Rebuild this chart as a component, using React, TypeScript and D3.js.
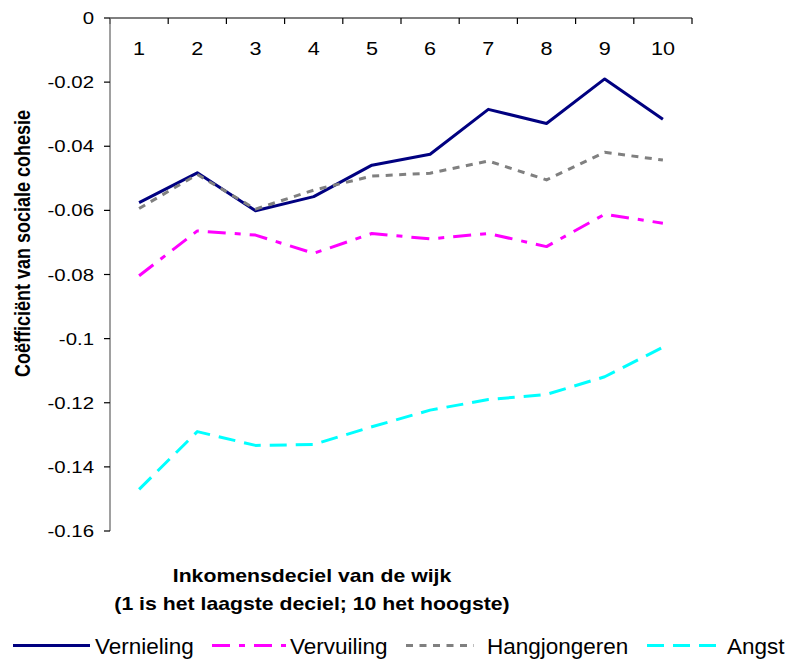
import React from "react";
import * as d3 from "d3";

const categories = ["1", "2", "3", "4", "5", "6", "7", "8", "9", "10"];
const vernieling = [-0.0576, -0.0483, -0.0601, -0.0557, -0.0459, -0.0425, -0.0285, -0.0329, -0.019, -0.0316];
const vervuiling = [-0.0804, -0.0664, -0.0677, -0.0734, -0.0672, -0.0689, -0.0672, -0.0713, -0.0612, -0.064];
const hangjongeren = [-0.0594, -0.0488, -0.0596, -0.0537, -0.0493, -0.0484, -0.0446, -0.0505, -0.0419, -0.0443];
const angst = [-0.147, -0.129, -0.1333, -0.133, -0.1275, -0.1223, -0.119, -0.1174, -0.1119, -0.1027];
const yTicks = [0, -0.02, -0.04, -0.06, -0.08, -0.1, -0.12, -0.14, -0.16];
const seriesNames = ["Vernieling", "Vervuiling", "Hangjongeren", "Angst"];

const series = [
  { name: seriesNames[0], values: vernieling, color: "#000080", dash: "none" },
  { name: seriesNames[1], values: vervuiling, color: "#FF00FF", dash: "18 9 6 9" },
  { name: seriesNames[2], values: hangjongeren, color: "#808080", dash: "7 6.5" },
  { name: seriesNames[3], values: angst, color: "#00FFFF", dash: "17 9" },
];

const FONT = "'Liberation Sans', Arial, sans-serif";
const SX = 1.2;

function T(props: { x: number; y: number; anchor?: string; size: number; bold?: boolean; sx?: number; children: any }) {
  const sx = props.sx ?? SX;
  return (
    <text
      transform={`translate(${props.x},${props.y}) scale(${sx},1)`}
      textAnchor={props.anchor || "start"}
      fontSize={props.size}
      fontWeight={props.bold ? "bold" : "normal"}
      fontFamily={FONT}
      fill="#000"
    >
      {props.children}
    </text>
  );
}

export default function App() {
  const left = 110, right = 692, top = 18, bottom = 531;
  const x = d3.scaleBand<string>().domain(categories).range([left, right]).padding(0);
  const y = d3.scaleLinear().domain([-0.16, 0]).range([bottom, top]);
  const cx = (c: string) => (x(c) as number) + x.bandwidth() / 2;
  const line = d3
    .line<number>()
    .x((_, i) => cx(categories[i]))
    .y((v) => y(v));

  const legendItems = [
    { x1: 13, x2: 90, tx: 95 },
    { x1: 212, x2: 286, tx: 290 },
    { x1: 406, x2: 474, tx: 487 },
    { x1: 647, x2: 719, tx: 727 },
  ];
  const ly = 645.5;

  return (
    <svg width={789} height={662} style={{ position: "absolute", left: 0, top: 0, background: "#fff" }}>
      <rect x={0} y={0} width={789} height={662} fill="#fff" />
      {/* top axis */}
      <line x1={left} x2={right} y1={top} y2={top} stroke="#000" strokeWidth={1.2} />
      {d3.range(categories.length + 1).map((i) => {
        const xx = left + i * x.bandwidth();
        return <line key={i} x1={xx} x2={xx} y1={top} y2={top + 6} stroke="#000" strokeWidth={1.2} />;
      })}
      {categories.map((c) => (
        <T key={c} x={cx(c)} y={55} anchor="middle" size={18}>
          {c}
        </T>
      ))}
      {/* y axis */}
      <line x1={left} x2={left} y1={top} y2={bottom} stroke="#808080" strokeWidth={1.5} />
      {yTicks.map((t) => (
        <g key={t}>
          <line x1={left - 6} x2={left} y1={y(t)} y2={y(t)} stroke="#000" strokeWidth={1.2} />
          <T x={94} y={y(t) + 6} anchor="end" size={17}>
            {String(t)}
          </T>
        </g>
      ))}
      <text
        transform={`translate(30,${(110 + 377) / 2}) rotate(-90) scale(1,${SX})`}
        textAnchor="middle"
        fontSize={18}
        fontWeight="bold"
        fontFamily={FONT}
      >
        Coëfficiënt van sociale cohesie
      </text>
      {/* lines */}
      {series.map((s) => (
        <path
          key={s.name}
          d={line(s.values) as string}
          fill="none"
          stroke={s.color}
          strokeWidth={3}
          strokeDasharray={s.dash}
          strokeLinejoin="round"
        />
      ))}
      {/* x title */}
      <T x={312} y={582} anchor="middle" size={17.7} bold>
        Inkomensdeciel van de wijk
      </T>
      <T x={312} y={610} anchor="middle" size={17.7} bold>
        (1 is het laagste deciel; 10 het hoogste)
      </T>
      {/* legend */}
      {series.map((s, i) => (
        <g key={s.name}>
          <line
            x1={legendItems[i].x1}
            x2={legendItems[i].x2}
            y1={ly}
            y2={ly}
            stroke={s.color}
            strokeWidth={3}
            strokeDasharray={s.dash}
          />
          <T x={legendItems[i].tx} y={654} size={22.5} sx={1}>
            {s.name}
          </T>
        </g>
      ))}
    </svg>
  );
}
